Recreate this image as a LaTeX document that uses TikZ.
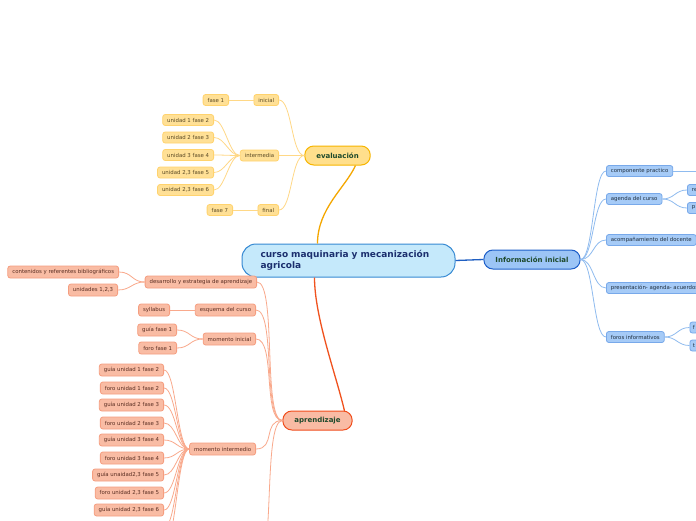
\documentclass[tikz,border=0pt]{standalone}
\usepackage{fontspec}
\setmainfont{DejaVu Sans}
\usetikzlibrary{calc}
\definecolor{ctrF}{HTML}{C5E9FB}
\definecolor{ctrB}{HTML}{3689D3}
\definecolor{ctrT}{HTML}{1B2F6E}
\definecolor{mainT}{HTML}{1E4A2C}
\definecolor{evF}{HTML}{FFDF8C}
\definecolor{evB}{HTML}{F7B500}
\definecolor{yF}{HTML}{FFE096}
\definecolor{yB}{HTML}{FFD36E}
\definecolor{yT}{HTML}{5B4A25}
\definecolor{yL}{HTML}{FFD886}
\definecolor{infF}{HTML}{9CC5F6}
\definecolor{infB}{HTML}{1E5FC9}
\definecolor{bF}{HTML}{A6CBF7}
\definecolor{bB}{HTML}{78A9EA}
\definecolor{bT}{HTML}{203040}
\definecolor{bL}{HTML}{8FBBEF}
\definecolor{aprF}{HTML}{F9BBA4}
\definecolor{aprB}{HTML}{F04D1C}
\definecolor{sF}{HTML}{F9BCA4}
\definecolor{sB}{HTML}{F59E80}
\definecolor{sT}{HTML}{5A2E22}
\definecolor{sL}{HTML}{F9A98C}
\definecolor{evL}{HTML}{F4A700}
\definecolor{aprL}{HTML}{F0521E}
\definecolor{infL}{HTML}{1F5FC2}
\begin{document}
\begin{tikzpicture}[x=1pt,y=-1pt,
  every node/.style={inner sep=0pt},
  ctrbox/.style={draw=ctrB, fill=ctrF, line width=1pt, rounded corners=14pt,
    text width=176pt, inner xsep=18.5pt, minimum height=33pt, align=left,
    font=\bfseries\fontsize{9}{11.5}\selectfont, text=ctrT},
  mainbox/.style={rounded corners=9pt, line width=1pt, minimum height=19pt,
    inner xsep=11.5pt, font=\bfseries\fontsize{7}{8}\selectfont, text=mainT},
  subbox/.style={rounded corners=2.5pt, line width=0.8pt, minimum height=11pt,
    inner xsep=4.5pt, font=\fontsize{5.4}{6}\selectfont},
  ybox/.style={subbox, draw=yB, fill=yF, text=yT},
  bbox/.style={subbox, draw=bB, fill=bF, text=bT},
  sbox/.style={subbox, draw=sB, fill=sF, text=sT, minimum height=12pt},
  lcurve/.style={to path={.. controls +(-#1,0) and +(#1,0) .. (\tikztotarget)}},
  rcurve/.style={to path={.. controls +(#1,0) and +(-#1,0) .. (\tikztotarget)}},
  yl/.style={draw=yL, line width=0.8pt},
  bl/.style={draw=bL, line width=0.8pt},
  sl/.style={draw=sL, line width=0.8pt}
]
\useasboundingbox (0,0) rectangle (696,520);
\fill[white] (0,0) rectangle (696,520);
\clip (0,0) rectangle (696,520);

% center and main branches
\node[ctrbox] (ctr) at (348.5,260.5) {curso maquinaria y mecanización agricola};
\node[mainbox, draw=evB, fill=evF] (evl) at (337.5,155.5) {evaluación};
\node[mainbox, draw=infB, fill=infF] (inf) at (532,259.5) {Información inicial};
\node[mainbox, draw=aprB, fill=aprF] (apr) at (317.5,420.5) {aprendizaje};

% evaluacion children
\node[ybox, anchor=east] (ini) at (279,100) {inicial};
\node[ybox, anchor=east] (f1) at (229,100) {fase 1};
\node[ybox, anchor=east] (inter) at (279,155.5) {intermedia};
\node[ybox, anchor=east] (u1) at (214,120) {unidad 1 fase 2};
\node[ybox, anchor=east] (u2) at (214,137.5) {unidad 2 fase 3};
\node[ybox, anchor=east] (u3) at (214,155) {unidad 3 fase 4};
\node[ybox, anchor=east] (u5) at (214,172.5) {unidad 2,3 fase 5};
\node[ybox, anchor=east] (u6) at (214,190) {unidad 2,3 fase 6};
\node[ybox, anchor=east] (fin) at (279,210) {final};
\node[ybox, anchor=east] (f7) at (233,210) {fase 7};

% informacion children
\node[bbox, anchor=west] (cp) at (606,171) {componente practico};
\node[bbox, anchor=west] (ag) at (606,199) {agenda del curso};
\node[bbox, anchor=west] (ac) at (606,240) {acompañamiento del docente};
\node[bbox, anchor=west] (pr) at (606,288) {presentación- agenda- acuerdos};
\node[bbox, anchor=west] (fo) at (606,337) {foros informativos};
\node[bbox, anchor=west] (agA) at (687,190) {re};
\node[bbox, anchor=west] (agB) at (687,208) {p};
\node[bbox, anchor=west, inner xsep=3pt] (foA) at (689.5,327.5) {f};
\node[bbox, anchor=west, inner xsep=3pt] (foB) at (689.5,345.5) {t};
\coordinate (cpX) at (730,171);

% aprendizaje children
\node[sbox, anchor=east] (des) at (257,282) {desarrollo y estrategia de aprendizaje};
\node[sbox, anchor=east] (cont) at (119,272) {contenidos y referentes bibliográficos};
\node[sbox, anchor=east] (unid) at (118,290) {unidades 1,2,3};
\node[sbox, anchor=east] (esq) at (256,310) {esquema del curso};
\node[sbox, anchor=east] (syl) at (170,310) {syllabus};
\node[sbox, anchor=east] (mi) at (256,339) {momento inicial};
\node[sbox, anchor=east] (g1) at (177,330) {guía fase 1};
\node[sbox, anchor=east] (fo1) at (177,348) {foro fase 1};
\node[sbox, anchor=east] (mint) at (256,449) {momento intermedio};
\node[sbox, anchor=east] (c1) at (164,370) {guía unidad 1 fase 2};
\node[sbox, anchor=east] (c2) at (164,388) {foro unidad 1 fase 2};
\node[sbox, anchor=east] (c3) at (164,405) {guía unidad 2 fase 3};
\node[sbox, anchor=east] (c4) at (164,423) {foro unidad 2 fase 3};
\node[sbox, anchor=east] (c5) at (164,440) {guía unidad 3 fase 4};
\node[sbox, anchor=east] (c6) at (164,458) {foro unidad 3 fase 4};
\node[sbox, anchor=east] (c7) at (164,475) {guía unaidad2,3 fase 5};
\node[sbox, anchor=east] (c8) at (164,493) {foro unidad 2,3 fase 5};
\node[sbox, anchor=east] (c9) at (164,510) {guía unidad 2,3 fase 6};
\coordinate (c10) at (164,528);
\coordinate (c11) at (164,546);
\coordinate (aprX) at (256,570);

% main connectors
\draw[evL, line width=1.3pt] ($(ctr.north west)+(76,0)$) .. controls +(0,-35) and +(-10,22) .. ($(evl.south)+(18,0)$);
\draw[aprL, line width=1.3pt] ($(ctr.south west)+(73,0)$) .. controls +(0,40) and +(-8,-35) .. ($(apr.north)+(27,0.5)$);
\draw[infL, line width=1.3pt] (ctr.east) -- (inf.west);

% evaluacion connectors
\draw[yl] (evl.west) to[lcurve=13] (ini.east);
\draw[yl] (evl.west) to[lcurve=13] (inter.east);
\draw[yl] (evl.west) to[lcurve=13] (fin.east);
\draw[yl] (ini.west) -- (f1.east);
\draw[yl] (fin.west) -- (f7.east);
\foreach \c in {u1,u2,u3,u5,u6} \draw[yl] (inter.west) to[lcurve=11] (\c.east);

% informacion connectors
\foreach \c in {cp,ag,ac,pr,fo} \draw[bl] (inf.east) to[rcurve=13] (\c.west);
\draw[bl] (cp.east) -- (cpX);
\draw[bl] (ag.east) to[rcurve=12] (agA.west);
\draw[bl] (ag.east) to[rcurve=12] (agB.west);
\draw[bl] (fo.east) to[rcurve=12] (foA.west);
\draw[bl] (fo.east) to[rcurve=12] (foB.west);

% aprendizaje connectors
\foreach \c in {des,esq,mi,mint} \draw[sl] (apr.west) to[lcurve=20] (\c.east);
\draw[sl] (apr.west) to[lcurve=20] (aprX);
\draw[sl] (des.west) to[lcurve=13] (cont.east);
\draw[sl] (des.west) to[lcurve=13] (unid.east);
\draw[sl] (esq.west) -- (syl.east);
\draw[sl] (mi.west) to[lcurve=13] (g1.east);
\draw[sl] (mi.west) to[lcurve=13] (fo1.east);
\foreach \c in {c1,c2,c3,c4,c5,c6,c7,c8,c9,c10,c11} \draw[sl] (mint.west) to[lcurve=12] (\c.east);
\end{tikzpicture}
\end{document}
